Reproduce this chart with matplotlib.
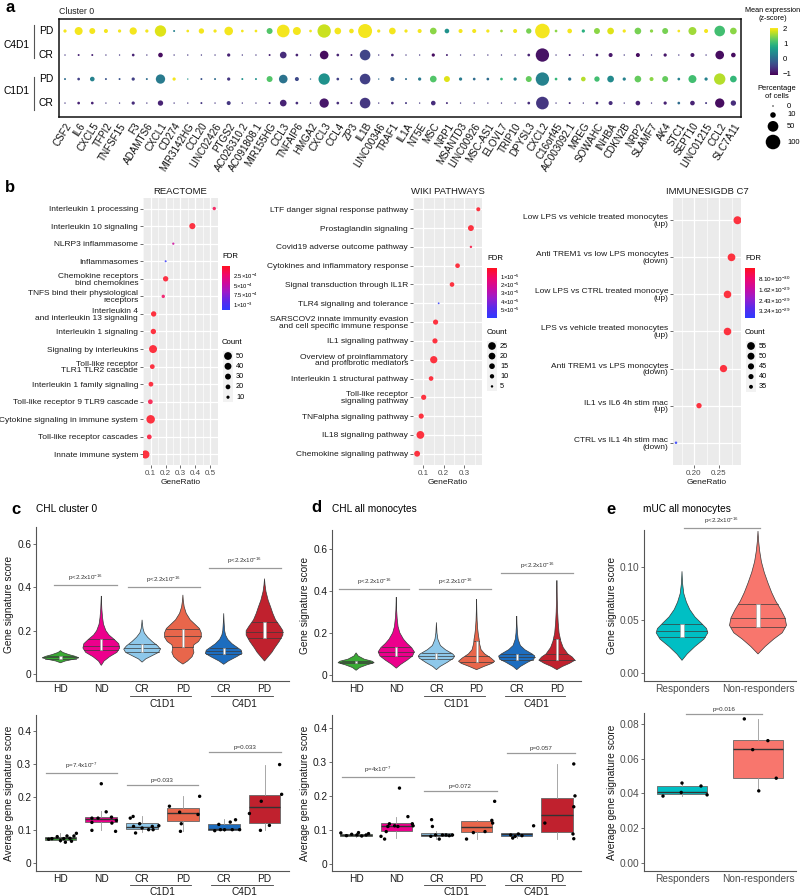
import numpy as np
import matplotlib
matplotlib.use("Agg")
import matplotlib.pyplot as plt
from matplotlib.colors import LinearSegmentedColormap, Normalize
from matplotlib.patches import Rectangle
import matplotlib.cm as cm

plt.rcParams['font.family'] = ['Liberation Sans', 'DejaVu Sans']
plt.rcParams['mathtext.fontset'] = 'custom'
plt.rcParams['mathtext.rm'] = 'Liberation Sans'
plt.rcParams['mathtext.it'] = 'Liberation Sans:italic'
plt.rcParams['mathtext.bf'] = 'Liberation Sans:bold'

# ---------------- DATA: panel a ----------------
genes = ["CSF2", "IL6", "CXCL5", "TFPI2", "TNFSF15", "F3", "ADAMTS6", "CXCL1", "CD274", "MIR3142HG",
         "CCL20", "LINC02426", "PTGS2", "AC026310.2", "AC091808.1", "MIR155HG", "CCL3", "TNFAIP6", "HMGA2", "CXCL3",
         "CCL4", "ZP3", "IL1B", "LINC00346", "TRAF1", "IL1A", "NT5E", "MSC", "NRP1", "MSANTD3",
         "LINC00926", "MSC-AS1", "ELOVL7", "TRIP10", "DPYSL3", "CXCL2", "C16orf45", "AC003092.1", "MREG", "SOWAHC",
         "INHBA", "CDKN2B", "NRP2", "SLAMF7", "AK4", "STC1", "SEPT10", "LINC01215", "CCL2", "SLC7A11"]
row_groups = ["C4D1", "C1D1"]
row_labels = ["PD", "CR", "PD", "CR"]
pd4_pct = [2, 25, 12, 4, 2, 20, 2, 57, 0.2, 1, 9, 2, 30, 1, 1, 12, 73, 25, 1, 82,
           16, 6, 91, 2, 16, 2, 4, 16, 6, 4, 4, 2, 1, 4, 9, 100, 1, 6, 2, 12,
           16, 2, 16, 2, 12, 1, 25, 4, 49, 16]
pd4_z = [2, 2, 2, 2, 2, 2, 2, 1.9, 0.3, 2, 2, 2, 2, 2, 2, 1.2, 2, 2, 2, 1.8,
         2, 2, 2, 2, 2, 2, 2, 1.5, 0.5, 2, 2, 2, 1.6, 2, 1.4, 2, 1.5, 2, 0.9, 1.5,
         1.9, 2, 1.4, 1.5, 1.4, 2, 1.6, 2, 1.1, 1.5]
cr4_pct = [0, 0.2, 0.2, 0, 0, 1, 0, 6, 0, 0, 0, 0, 2, 0, 0, 0.2, 16, 1, 0, 30,
           1, 0.2, 49, 0, 1, 0, 0, 2, 0.2, 0, 0, 0, 0, 0, 1, 82, 0, 0.2, 0, 1,
           4, 0, 4, 0, 2, 0, 4, 0, 30, 6]
cr4_z = [-0.6, -0.8, -0.8, -0.6, -0.6, -0.8, -0.6, -1.0, -0.6, -0.6, -0.6, -0.6, -0.8, -0.6, -0.6, -0.8, -0.7, -0.8, -0.6, -1.0,
         -0.8, -0.8, -0.45, -0.6, -0.8, -0.6, -0.6, -1.0, -0.8, -0.6, -0.6, -0.6, -0.6, -0.6, -0.8, -0.95, -0.6, -0.8, -0.6, -0.8,
         -0.9, -0.6, -1.0, -0.6, -0.9, -0.6, -0.9, -0.6, -1.0, -1.0]
pd1_pct = [0.2, 1, 6, 0.2, 0.2, 2, 0.2, 36, 2, 0, 0.2, 0.2, 2, 0.2, 0.2, 12, 30, 4, 0, 57,
           1, 0.2, 49, 0, 4, 0.2, 2, 16, 12, 2, 1, 1, 1, 2, 12, 82, 1, 2, 6, 9,
           16, 2, 16, 4, 12, 1, 25, 2, 57, 16]
pd1_z = [0, -0.5, 0.3, -0.3, -0.3, -0.5, 0, 0.2, 2, 0.5, -0.3, 0, -0.6, 0.5, 0.5, 1.2, 0.1, -0.4, 0, 0.5,
         -0.5, -0.3, -0.5, 0, -0.2, 0, 0.2, 1.2, 1.9, 0.2, 0, 0, 1.0, 0.3, 1.3, 0.3, 1.0, 0.1, 1.7, 1.1,
         0.4, 0.3, 1.3, 1.5, 1.3, 0.3, 1.1, 0.3, 1.7, 1.0]
cr1_pct = [0, 1, 1, 0, 0, 2, 0, 9, 0, 0, 0.2, 0, 4, 0, 0, 0.2, 16, 1, 0, 36,
           1, 0.2, 49, 0, 1, 0.2, 0, 6, 0.2, 0, 0, 0, 0, 0, 1, 73, 0, 0.2, 0, 1,
           4, 0, 6, 0, 2, 1, 6, 0.2, 36, 9]
cr1_z = [-0.6, -0.8, -0.8, -0.6, -0.6, -0.7, -0.6, -0.8, -0.6, -0.6, -0.6, -0.6, -0.6, -0.6, -0.6, -0.7, -0.8, -0.7, -0.6, -0.9,
         -0.7, -0.7, -0.6, -0.6, -0.7, -0.6, -0.6, -0.7, -0.7, -0.6, -0.6, -0.6, -0.6, -0.6, -0.7, -0.6, -0.6, -0.7, -0.6, -0.7,
         -0.7, -0.6, -0.8, -0.6, -0.8, 0.0, -0.8, -0.6, -1.0, -0.7]
pct_legend = [0, 10, 50, 100]
z_ticks = [-1, 0, 1, 2]

# ---------------- DATA: panel b ----------------
reac_labels = ["Interleukin 1 processing", "Interleukin 10 signaling", "NLRP3 inflammasome", "Inflammasomes",
               "Chemokine receptors\nbind chemokines", "TNFS bind their physiological\nreceptors",
               "Interleukin 4\nand interleukin 13 signaling", "Interleukin 1 signaling", "Signaling by interleukins",
               "Toll-like receptor\nTLR1 TLR2 cascade", "Interleukin 1 family signaling",
               "Toll-like receptor 9 TLR9 cascade", "Cytokine signaling in immune system",
               "Toll-like receptor cascades", "Innate immune system"]
reac_ratio = [0.525, 0.379, 0.252, 0.201, 0.201, 0.185, 0.121, 0.119, 0.117, 0.112, 0.103, 0.099, 0.101, 0.092, 0.066]
reac_count = [11, 32, 6, 5, 25, 11, 25, 25, 53, 20, 20, 20, 60, 20, 55]
reac_fdr = [1.5e-4, 1e-5, 4.5e-4, 1.1e-3, 2e-5, 2e-4, 1e-6, 1e-6, 1e-7, 1e-5, 1e-5, 1e-4, 1e-8, 5e-5, 1e-7]
reac_fdr_ticks = [2.5e-4, 5e-4, 7.5e-4, 1e-3]
reac_fdr_labels = [r"$2.5{\times}10^{-4}$", r"$5{\times}10^{-4}$", r"$7.5{\times}10^{-4}$", r"$1{\times}10^{-3}$"]
reac_count_leg = [50, 40, 30, 20, 10]

wiki_labels = ["LTF danger signal response pathway", "Prostaglandin signaling", "Covid19 adverse outcome pathway",
               "Cytokines and inflammatory response", "Signal transduction through IL1R", "TLR4 signaling and tolerance",
               "SARSCOV2 innate immunity evasion\nand cell specific immune response", "IL1 signaling pathway",
               "Overview of proinflammatory\nand profibrotic mediators", "Interleukin 1 structural pathway",
               "Toll-like receptor\nsignaling pathway", "TNFalpha signaling pathway", "IL18 signaling pathway",
               "Chemokine signaling pathway"]
wiki_ratio = [0.368, 0.332, 0.332, 0.267, 0.24, 0.175, 0.16, 0.157, 0.151, 0.138, 0.102, 0.09, 0.086, 0.07]
wiki_count = [9, 16, 5, 11, 11, 4, 13, 13, 23, 11, 13, 13, 26, 16]
wiki_fdr = [1e-7, 1e-7, 5e-6, 1e-7, 1e-7, 6e-5, 1e-8, 1e-8, 1e-8, 1e-7, 1e-7, 1e-7, 1e-9, 1e-8]
wiki_fdr_ticks = [1e-5, 2e-5, 3e-5, 4e-5, 5e-5]
wiki_fdr_labels = [r"$1{\times}10^{-5}$", r"$2{\times}10^{-5}$", r"$3{\times}10^{-5}$", r"$4{\times}10^{-5}$", r"$5{\times}10^{-5}$"]
wiki_count_leg = [25, 20, 15, 10, 5]

imm_labels = ["Low LPS vs vehicle treated monocytes\n(up)", "Anti TREM1 vs low LPS monocytes\n(down)",
              "Low LPS vs CTRL treated monocye\n(up)", "LPS vs vehicle treated monocytes\n(up)",
              "Anti TREM1 vs LPS monocytes\n(down)", "IL1 vs IL6 4h stim mac\n(up)", "CTRL vs IL1 4h stim mac\n(down)"]
imm_ratio = [0.287, 0.275, 0.267, 0.267, 0.259, 0.21, 0.164]
imm_count = [57, 55, 54, 54, 52, 41, 31]
imm_fdr = [1e-35, 1e-35, 1e-35, 1e-35, 1e-35, 1e-35, 3.8e-29]
imm_fdr_ticks = [8.1e-30, 1.62e-29, 2.43e-29, 3.24e-29]
imm_fdr_labels = [r"$8.10{\times}10^{-30}$", r"$1.62{\times}10^{-29}$", r"$2.43{\times}10^{-29}$", r"$3.24{\times}10^{-29}$"]
imm_count_leg = [55, 50, 45, 40, 35]

# ---------------- DATA: panels c, d, e ----------------
cd_ticks = ["HD", "ND", "CR", "PD", "CR", "PD"]
cd_colors = ["#3AAA35", "#EC008C", "#8EC8EA", "#E8664B", "#1D6DBF", "#C0212E"]

c_vio_y = [[0.052, 0.06, 0.068, 0.075, 0.082, 0.09, 0.1, 0.108],
           [0.04, 0.06, 0.08, 0.1, 0.12, 0.14, 0.16, 0.18, 0.2, 0.23, 0.26, 0.3, 0.33, 0.36],
           [0.055, 0.07, 0.085, 0.1, 0.115, 0.13, 0.15, 0.17, 0.19, 0.21, 0.23, 0.25],
           [0.046, 0.06, 0.08, 0.1, 0.12, 0.135, 0.15, 0.17, 0.19, 0.21, 0.23, 0.25, 0.28, 0.31, 0.34, 0.365],
           [0.045, 0.06, 0.08, 0.095, 0.11, 0.125, 0.14, 0.16, 0.18, 0.2, 0.24, 0.28],
           [0.06, 0.08, 0.1, 0.12, 0.15, 0.18, 0.2, 0.22, 0.25, 0.28, 0.31, 0.34, 0.38, 0.41, 0.44]]
c_vio_w = [[0, 0.25, 0.7, 1.0, 0.8, 0.45, 0.12, 0],
           [0, 0.15, 0.45, 0.85, 1.0, 0.95, 0.7, 0.42, 0.25, 0.12, 0.07, 0.03, 0.015, 0],
           [0, 0.2, 0.55, 0.9, 1.0, 0.85, 0.55, 0.3, 0.12, 0.05, 0.02, 0],
           [0, 0.25, 0.5, 0.6, 0.55, 0.6, 0.85, 1.0, 1.0, 0.9, 0.65, 0.4, 0.18, 0.07, 0.02, 0],
           [0, 0.25, 0.7, 1.0, 0.95, 0.7, 0.45, 0.22, 0.1, 0.05, 0.02, 0],
           [0, 0.2, 0.4, 0.55, 0.8, 1.0, 1.0, 0.85, 0.6, 0.45, 0.33, 0.2, 0.08, 0.03, 0]]
c_vio_q = [[0.071, 0.077, 0.084], [0.11, 0.13, 0.16], [0.1, 0.118, 0.138],
           [0.125, 0.175, 0.21], [0.092, 0.105, 0.122], [0.165, 0.195, 0.24]]

d_vio_y = [[0.022, 0.035, 0.048, 0.058, 0.065, 0.075, 0.09, 0.105],
           [0.032, 0.05, 0.07, 0.09, 0.11, 0.13, 0.15, 0.17, 0.2, 0.23, 0.27, 0.31, 0.34, 0.37],
           [0.025, 0.04, 0.06, 0.08, 0.09, 0.1, 0.12, 0.14, 0.17, 0.2, 0.25],
           [0.025, 0.04, 0.055, 0.065, 0.08, 0.1, 0.12, 0.15, 0.17, 0.19, 0.22, 0.26, 0.3, 0.36],
           [0.025, 0.04, 0.06, 0.075, 0.09, 0.1, 0.12, 0.14, 0.17, 0.2, 0.24, 0.28],
           [0.025, 0.04, 0.055, 0.07, 0.085, 0.1, 0.13, 0.16, 0.2, 0.25, 0.3, 0.36, 0.42, 0.45]]
d_vio_w = [[0, 0.2, 0.6, 1.0, 0.9, 0.45, 0.12, 0],
           [0, 0.25, 0.6, 0.9, 1.0, 0.85, 0.6, 0.4, 0.2, 0.1, 0.05, 0.02, 0.01, 0],
           [0, 0.2, 0.6, 0.95, 1.0, 0.9, 0.5, 0.22, 0.08, 0.03, 0],
           [0, 0.4, 0.85, 1.0, 0.8, 0.45, 0.25, 0.16, 0.14, 0.1, 0.06, 0.03, 0.015, 0],
           [0, 0.2, 0.6, 0.95, 1.0, 0.85, 0.45, 0.2, 0.08, 0.04, 0.015, 0],
           [0, 0.3, 0.7, 1.0, 0.85, 0.6, 0.35, 0.22, 0.12, 0.07, 0.04, 0.02, 0.01, 0]]
d_vio_q = [[0.055, 0.062, 0.068], [0.088, 0.11, 0.135], [0.075, 0.09, 0.105],
           [0.06, 0.088, 0.162], [0.072, 0.086, 0.1], [0.07, 0.1, 0.17]]

# box stats: q1, median, q3, whisker low, whisker high
c_box = [[0.071, 0.075, 0.079, 0.063, 0.09], [0.125, 0.133, 0.14, 0.1, 0.158],
         [0.102, 0.108, 0.12, 0.093, 0.141], [0.126, 0.153, 0.167, 0.097, 0.202],
         [0.101, 0.104, 0.118, 0.098, 0.133], [0.121, 0.17, 0.207, 0.099, 0.298]]
c_pts = [[0.072, 0.074, 0.08, 0.068, 0.074, 0.063, 0.082, 0.075, 0.066, 0.082, 0.09],
         [0.24, 0.136, 0.123, 0.099, 0.136, 0.155, 0.139, 0.121, 0.129, 0.096],
         [0.136, 0.141, 0.111, 0.091, 0.119, 0.106, 0.101, 0.111, 0.101, 0.113],
         [0.172, 0.154, 0.119, 0.096, 0.147, 0.202],
         [0.098, 0.117, 0.101, 0.101, 0.124, 0.101, 0.131, 0.101],
         [0.15, 0.187, 0.099, 0.114, 0.298, 0.208]]
c_jit = [[-0.29, -0.21, -0.08, 0, 0.08, 0.12, 0.16, 0.23, 0.27, 0.33, 0.39],
         [0, -0.23, -0.23, -0.23, -0.08, 0.12, 0.25, 0.26, 0.37, 0.35],
         [-0.29, -0.22, -0.21, -0.16, -0.06, 0, 0.16, 0.25, 0.27, 0.41],
         [-0.33, -0.08, -0.04, -0.06, 0.37, 0.41],
         [-0.22, -0.12, -0.08, 0.02, 0.16, 0.21, 0.29, 0.39],
         [-0.37, -0.08, -0.1, 0.12, 0.37, 0.42]]
d_box = [[0.082, 0.085, 0.088, 0.08, 0.092], [0.098, 0.11, 0.12, 0.075, 0.137],
         [0.081, 0.085, 0.09, 0.073, 0.097], [0.093, 0.107, 0.127, 0.072, 0.13],
         [0.083, 0.087, 0.09, 0.076, 0.092], [0.094, 0.144, 0.194, 0.074, 0.294]]
d_pts = [[0.091, 0.083, 0.087, 0.085, 0.092, 0.082, 0.085, 0.089],
         [0.081, 0.073, 0.095, 0.11, 0.118, 0.112, 0.11, 0.223, 0.139, 0.118, 0.112],
         [0.13, 0.11, 0.081, 0.085, 0.073, 0.085, 0.085, 0.083, 0.085],
         [0.073, 0.092, 0.095, 0.128, 0.12, 0.184],
         [0.085, 0.076, 0.081, 0.088, 0.083, 0.112],
         [0.294, 0.2, 0.168, 0.088, 0.074, 0.12]]
d_jit = [[-0.38, -0.24, -0.11, 0.02, 0.06, 0.14, 0.25, 0.31],
         [-0.38, -0.29, -0.25, -0.21, -0.17, -0.04, 0.04, 0.08, 0.29, 0.4, 0.42],
         [-0.12, -0.1, -0.14, -0.02, 0.07, 0.15, 0.24, 0.32, 0.4],
         [-0.25, -0.08, 0.21, 0.38, 0.4, 0.45],
         [-0.15, -0.1, -0.04, 0.04, 0.13, 0.42],
         [0.42, 0.45, 0.42, 0.4, 0.42, -0.3]]

e_ticks = ["Responders", "Non-responders"]
e_colors = ["#00BFC4", "#F8766D"]
e_vio_y = [[0.012, 0.018, 0.025, 0.032, 0.038, 0.042, 0.047, 0.053, 0.06, 0.067, 0.075, 0.085, 0.096],
           [0.018, 0.025, 0.032, 0.038, 0.045, 0.052, 0.06, 0.068, 0.076, 0.085, 0.095, 0.105, 0.115, 0.125, 0.134]]
e_vio_w = [[0, 0.2, 0.5, 0.85, 1.0, 0.95, 0.75, 0.5, 0.3, 0.17, 0.07, 0.02, 0],
           [0, 0.25, 0.55, 0.85, 1.0, 0.95, 0.8, 0.62, 0.48, 0.35, 0.22, 0.12, 0.06, 0.02, 0]]
e_vio_half = [0.34, 0.375]
e_vio_q = [[0.034, 0.04, 0.046], [0.043, 0.052, 0.065]]
e_box = [[0.0395, 0.0408, 0.0445, 0.0385, 0.0462], [0.049, 0.0655, 0.0705, 0.0415, 0.0829]]
e_pts = [[0.0385, 0.0406, 0.046, 0.0443, 0.0392], [0.0829, 0.0652, 0.0704, 0.0488, 0.0415]]
e_jit = [[-0.25, -0.01, 0.0, 0.25, 0.33], [-0.18, -0.07, 0.13, 0.24, 0.01]]

# ---------------- FIGURE ----------------
W, H = 800, 896
fig = plt.figure(figsize=(W / 100, H / 100), dpi=100)


def add_ax(l, t, r, b, **kw):
    return fig.add_axes([l / W, 1 - b / H, (r - l) / W, (b - t) / H], **kw)


ov = fig.add_axes([0, 0, 1, 1], zorder=10)
ov.set_xlim(0, W)
ov.set_ylim(H, 0)
ov.axis('off')
ov.patch.set_alpha(0)


def T(x, y, s, **kw):
    kw.setdefault('va', 'center')
    ov.text(x, y, s, **kw)


# panel letters
for (lx, ly, lt) in [(5, 8, 'a'), (5, 187, 'b'), (11, 509, 'c'), (311, 508, 'd'), (606, 509, 'e')]:
    T(lx, ly, lt, fontsize=12, fontweight='bold', ha='left')

# ================= Panel a =================
axa = add_ax(59, 19, 741, 117)
xg = np.arange(len(genes))
rows = [(pd4_pct, pd4_z), (cr4_pct, cr4_z), (pd1_pct, pd1_z), (cr1_pct, cr1_z)]


def pct_size(p):
    d = 1 + 9.5 * np.sqrt(np.asarray(p, dtype=float) / 100.0)
    return d ** 2


sc = None
for i, (pc, zz) in enumerate(rows):
    sc = axa.scatter(xg, np.full(len(genes), i), s=pct_size(pc), c=zz, cmap='viridis',
                     vmin=-1.1, vmax=2.05, edgecolors='none', zorder=3)
axa.set_xlim(-0.44, len(genes) - 0.44)
axa.set_ylim(3.58, -0.5)
axa.set_yticks([])
axa.set_xticks(xg)
axa.set_xticklabels(genes, rotation=58, ha='right', va='top', rotation_mode='anchor', fontsize=7.1, color='#111')
axa.tick_params(axis='x', length=0, pad=3)
for sp in axa.spines.values():
    sp.set_linewidth(1.1)
    sp.set_color('#111')
T(59, 11, "Cluster 0", fontsize=6.3, ha='left', color='#222')
for i, lab in enumerate(row_labels):
    T(46, 31 + 24 * i, lab, fontsize=7.4, ha='center')
for gi, g in enumerate(row_groups):
    y0 = 25 + 52 * gi
    ov.plot([34, 34], [y0, y0 + 33], color='#555', lw=0.8)
    T(30, 45 + 46 * gi, g, fontsize=7.4, ha='right')

cax_a = add_ax(770, 28, 778, 75)
cba = fig.colorbar(sc, cax=cax_a, ticks=z_ticks)
cba.outline.set_visible(False)
cba.ax.set_yticklabels([('\u2212' + str(abs(t))) if t < 0 else str(t) for t in z_ticks], fontsize=5.6)
cba.ax.tick_params(length=2, width=0.5, color='white', pad=1.5)
T(773, 11, "Mean expression", fontsize=5.2, ha='center')
T(773, 19, "(z-score)", fontsize=5.2, ha='center')
T(777, 88, "Percentage", fontsize=5.4, ha='center')
T(777, 96, "of cells", fontsize=5.4, ha='center')
dpx = (1 + 9.5 * np.sqrt(np.array(pct_legend) / 100.0)) / 0.72
kh = np.maximum(9, dpx + 3)
cy = 106.0
for k, p in enumerate(pct_legend):
    if k > 0:
        cy += (kh[k - 1] + kh[k]) / 2
    ov.scatter([773], [cy], s=pct_size([p]), color='black', edgecolors='none')
    T(787, cy, str(p), fontsize=5.4, ha='left')

# ================= Panel b =================
cmap_fdr = LinearSegmentedColormap.from_list('fdr', ['#FF1020', '#F0086A', '#CC0A9E', '#9A1CCB', '#5A2AEA', '#2E3BFF'])


def cnt_diam(c, cmin, cmax, dmin, dmax):
    f = (np.asarray(c, dtype=float) - cmin) / (cmax - cmin)
    f = np.clip(f, 0, 1.3)
    return np.sqrt(dmin ** 2 + f * (dmax ** 2 - dmin ** 2))


def enrich(box, title, labels, ratio, count, fdr, vmax, xlim, xticks, xticklabels, minor,
           cscale, cbar_box, fdr_ticks, fdr_labels, cb_fs, leg_vals, leg_x, leg_y0, leg_dy, title_y):
    ax = add_ax(*box)
    n = len(labels)
    ypos = np.arange(n)
    ax.set_facecolor('#EBEBEB')
    ax.set_axisbelow(True)
    for sp in ax.spines.values():
        sp.set_visible(False)
    ax.set_xlim(*xlim)
    ax.set_ylim(n - 0.4, -0.6)
    ax.set_xticks(xticks)
    ax.set_xticklabels(xticklabels, fontsize=5.8, color='#4D4D4D')
    ax.set_xticks(minor, minor=True)
    ax.set_yticks(ypos)
    ax.set_yticklabels(labels, fontsize=6.0, color='#1A1A1A', linespacing=0.95, multialignment='right')
    ax.tick_params(axis='both', which='major', length=2, width=0.5, color='#333', pad=1.5)
    ax.tick_params(axis='x', which='minor', length=0)
    ax.grid(True, which='major', color='white', lw=0.9)
    ax.grid(True, which='minor', axis='x', color='white', lw=0.45)
    norm = Normalize(0, vmax)
    d = cnt_diam(count, *cscale)
    ax.scatter(ratio, ypos, s=(d * 0.72) ** 2, c=fdr, cmap=cmap_fdr, norm=norm, edgecolors='none', zorder=3, alpha=0.85)
    ax.set_title(title, fontsize=6.8, color='#1A1A1A', pad=3)
    ax.set_xlabel("GeneRatio", fontsize=6.0, color='#1A1A1A', labelpad=1.5)
    # colorbar
    cax = add_ax(*cbar_box)
    sm = cm.ScalarMappable(norm=norm, cmap=cmap_fdr)
    cb = fig.colorbar(sm, cax=cax, ticks=fdr_ticks)
    cb.outline.set_visible(False)
    cax.invert_yaxis()
    cb.ax.set_yticklabels(fdr_labels, fontsize=cb_fs)
    cb.ax.tick_params(length=1.5, width=0.5, color='white', pad=1)
    T(cbar_box[0], title_y, "FDR", fontsize=5.6, ha='left')
    T(cbar_box[0], leg_y0 - 13, "Count", fontsize=5.6, ha='left')
    nl = len(leg_vals)
    ov.add_patch(Rectangle((leg_x - 5, leg_y0 - leg_dy / 2), 10, leg_dy * nl, facecolor='#F2F2F2', edgecolor='none'))
    dl = cnt_diam(leg_vals, *cscale)
    for k, v in enumerate(leg_vals):
        yy = leg_y0 + k * leg_dy
        ov.scatter([leg_x], [yy], s=(dl[k] * 0.72) ** 2, color='black', edgecolors='none', zorder=5)
        T(leg_x + 8, yy, str(v), fontsize=5.3, ha='left')
    return ax


enrich((143, 198, 218, 465), "REACTOME", reac_labels, reac_ratio, reac_count, reac_fdr, 1.15e-3,
       (0.05, 0.55), [0.1, 0.2, 0.3, 0.4, 0.5], ["0.1", "0.2", "0.3", "0.4", "0.5"],
       [0.05, 0.15, 0.25, 0.35, 0.45, 0.55], (5, 60, 2.0, 8.5), (222, 266, 230, 310),
       reac_fdr_ticks, reac_fdr_labels, 4.2, reac_count_leg, 228, 356, 10.3, 257)
enrich((413, 198, 482, 465), "WIKI PATHWAYS", wiki_labels, wiki_ratio, wiki_count, wiki_fdr, 6.1e-5,
       (0.057, 0.386), [0.1, 0.2, 0.3], ["0.1", "0.2", "0.3"],
       [0.05, 0.15, 0.25, 0.35], (4, 26, 1.8, 7.8), (487, 268, 497, 318),
       wiki_fdr_ticks, wiki_fdr_labels, 4.2, wiki_count_leg, 492, 346, 10.1, 258)
enrich((673, 198, 741, 465), "IMMUNESIGDB C7", imm_labels, imm_ratio, imm_count, imm_fdr, 3.8e-29,
       (0.158, 0.294), [0.20, 0.25], ["0.20", "0.25"],
       [0.175, 0.225, 0.275], (30, 57, 2.0, 8.0), (745, 268, 755, 318),
       imm_fdr_ticks, imm_fdr_labels, 4.6, imm_count_leg, 751, 346, 10.2, 258)

# ================= Panels c, d, e =================
LINE = '#3A3A3A'


def style_axis(ax, yt, ytl, ylim, xlim, ylabel, tick_color='#1A1A1A'):
    ax.set_ylim(*ylim)
    ax.set_xlim(*xlim)
    for s in ['top', 'right']:
        ax.spines[s].set_visible(False)
    for s in ['left', 'bottom']:
        ax.spines[s].set_color('#555')
        ax.spines[s].set_linewidth(0.8)
    ax.set_yticks(yt)
    ax.set_yticklabels(ytl, fontsize=7.3, color=tick_color)
    ax.tick_params(axis='y', length=2.5, width=0.6, color='#555', pad=1)
    ax.tick_params(axis='x', length=0, pad=3)
    ax.set_ylabel(ylabel, fontsize=7.3, labelpad=2, color='#1A1A1A')


def violins(ax, ys, ws, qs, colors, halves):
    for i, (yv, wv, q, col, mh) in enumerate(zip(ys, ws, qs, colors, halves)):
        pos = i + 1
        yv = np.asarray(yv)
        wv = np.asarray(wv) * mh
        ax.fill(np.concatenate([pos - wv, (pos + wv)[::-1]]), np.concatenate([yv, yv[::-1]]),
                facecolor=col, edgecolor=LINE, lw=0.5, zorder=2)
        for qv in q:
            hw = np.interp(qv, yv, wv)
            ax.plot([pos - hw, pos + hw], [qv, qv], color=LINE, lw=0.5, zorder=3)
        ax.add_patch(Rectangle((pos - 0.025, q[0]), 0.05, q[2] - q[0], facecolor='white',
                               edgecolor='#9A9A9A', lw=0.4, zorder=4))


def boxes(ax, stats, pts, jit, colors, width):
    st = [dict(q1=s[0], med=s[1], q3=s[2], whislo=s[3], whishi=s[4], fliers=[]) for s in stats]
    pos = np.arange(1, len(stats) + 1)
    bp = ax.bxp(st, positions=pos, widths=width, patch_artist=True, showfliers=False, showcaps=False,
                boxprops=dict(edgecolor='#666', lw=0.6),
                medianprops=dict(color='#333', lw=1.0),
                whiskerprops=dict(color='#999', lw=0.6))
    for patch, col in zip(bp['boxes'], colors):
        patch.set_facecolor(col)
    for i, (pv, jv) in enumerate(zip(pts, jit)):
        ax.scatter(pos[i] + np.asarray(jv), pv, s=6, color='black', edgecolors='none', zorder=5)


def pline(ax, x1, x2, y, txt):
    ax.plot([x1, x2], [y, y], color='#9A9A9A', lw=0.9, clip_on=False, zorder=6)
    ax.annotate(txt, xy=((x1 + x2) / 2, y), xytext=(0, 1.5), textcoords='offset points',
                ha='center', va='bottom', fontsize=4.5, color='#333', annotation_clip=False)


def xlabels_groups(ax, hpx, lab_off, line_off, grp_off):
    ax.set_xticks(np.arange(1, 7))
    ax.set_xticklabels(cd_ticks, fontsize=7.3, color='#1A1A1A')
    ax.tick_params(axis='x', pad=lab_off)
    tr = ax.get_xaxis_transform()
    for (a, b, name) in [(3, 4, row_groups[1]), (5, 6, row_groups[0])]:
        ax.plot([a - 0.3, b + 0.2], [-line_off / hpx] * 2, color=LINE, lw=0.6, transform=tr, clip_on=False)
        ax.text((a + b) / 2, -grp_off / hpx, name, transform=tr, ha='center', va='center', fontsize=7.3,
                color='#1A1A1A')


p16 = r"p<2.2x10$^{-16}$"

# ---- c ----
T(36, 509, "CHL cluster 0", fontsize=7.3, ha='left')
axc1 = add_ax(36, 527, 289, 681)
style_axis(axc1, [0, 0.2, 0.4, 0.6], ["0", "0.2", "0.4", "0.6"], (-0.032, 0.678), (0.4, 6.6), "Gene signature score")
violins(axc1, c_vio_y, c_vio_w, c_vio_q, cd_colors, [0.45] * 6)
xlabels_groups(axc1, 154, 2.5, 15, 23)
pline(axc1, 0.85, 2.38, 0.41, p16)
pline(axc1, 2.65, 4.42, 0.40, p16)
pline(axc1, 4.64, 6.4, 0.488, p16)

axc2 = add_ax(36, 715, 289, 871)
style_axis(axc2, [0, 0.1, 0.2, 0.3, 0.4], ["0", "0.1", "0.2", "0.3", "0.4"], (-0.024, 0.448), (0.4, 6.6),
           "Average gene signature score")
boxes(axc2, c_box, c_pts, c_jit, cd_colors, 0.78)
xlabels_groups(axc2, 156, 2.0, 14, 21)
pline(axc2, 0.64, 2.38, 0.272, r"p=7.4x10$^{-7}$")
pline(axc2, 2.62, 4.38, 0.235, "p=0.033")
pline(axc2, 4.64, 6.4, 0.337, "p=0.033")

# ---- d ----
T(332, 509, "CHL all monocytes", fontsize=7.3, ha='left')
axd1 = add_ax(332, 530, 581, 681)
style_axis(axd1, [0, 0.2, 0.4, 0.6], ["0", "0.2", "0.4", "0.6"], (-0.029, 0.69), (0.4, 6.6), "Gene signature score")
violins(axd1, d_vio_y, d_vio_w, d_vio_q, cd_colors, [0.45] * 6)
xlabels_groups(axd1, 151, 2.5, 15, 23)
pline(axd1, 0.58, 2.32, 0.41, p16)
pline(axd1, 2.57, 4.37, 0.41, p16)
pline(axd1, 4.62, 6.4, 0.487, p16)

axd2 = add_ax(332, 715, 581, 871)
style_axis(axd2, [0, 0.1, 0.2, 0.3, 0.4], ["0", "0.1", "0.2", "0.3", "0.4"], (-0.021, 0.438), (0.4, 6.6),
           "Average gene signature score")
boxes(axd2, d_box, d_pts, d_jit, cd_colors, 0.78)
xlabels_groups(axd2, 156, 2.0, 14, 21)
pline(axd2, 0.65, 2.45, 0.255, r"p=4x10$^{-7}$")
pline(axd2, 2.7, 4.5, 0.215, "p=0.072")
pline(axd2, 4.75, 6.45, 0.326, "p=0.057")

# ---- e ----
T(643, 509, "mUC all monocytes", fontsize=7.3, ha='left')
axe1 = add_ax(644, 530, 796, 681)
style_axis(axe1, [0, 0.05, 0.10], ["0.00", "0.05", "0.10"], (-0.0075, 0.135), (0.5, 2.5), "Gene signature score",
           tick_color='#4D4D4D')
violins(axe1, e_vio_y, e_vio_w, e_vio_q, e_colors, e_vio_half)
axe1.set_xticks([1, 2])
axe1.set_xticklabels(e_ticks, fontsize=7.3, color='#4D4D4D')
axe1.tick_params(axis='x', pad=2.5)
pline(axe1, 1.02, 2.02, 0.137, p16)

axe2 = add_ax(644, 713, 796, 871)
style_axis(axe2, [0, 0.02, 0.04, 0.06, 0.08], ["0.00", "0.02", "0.04", "0.06", "0.08"], (-0.0046, 0.0863),
           (0.5, 2.5), "Average gene signature score", tick_color='#4D4D4D')
boxes(axe2, e_box, e_pts, e_jit, e_colors, 0.65)
axe2.set_xticks([1, 2])
axe2.set_xticklabels(e_ticks, fontsize=7.3, color='#4D4D4D')
axe2.tick_params(axis='x', pad=2.0)
pline(axe2, 1.05, 2.05, 0.0857, "p=0.016")

fig.savefig("out.png", dpi=100)
